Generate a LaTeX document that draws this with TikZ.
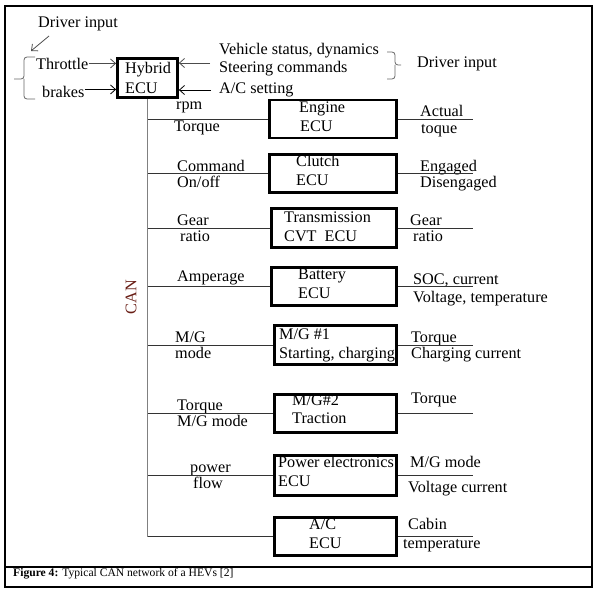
\documentclass[tikz,border=0pt]{standalone}
\usepackage{fontspec}
\setmainfont{Liberation Serif}
\usepackage{xcolor}
\usepackage{tikz}
\usetikzlibrary{arrows.meta, positioning, calc}

\definecolor{canred}{RGB}{105,30,22}

\begin{document}
\begin{tikzpicture}[x=1pt, y=-1pt, font=\fontsize{16.2}{19}\selectfont,
    ecubox/.style={draw, line width=2.8pt, inner sep=0pt, minimum height=39pt},
    lbl/.style={anchor=base west, inner sep=0pt},
    branch/.style={draw=black!80, line width=0.9pt},
    bus/.style={draw=black!50, line width=1.8pt},
    bracket/.style={draw=black!60, line width=0.8pt, rounded corners=3pt},
    inarrow/.style={draw=black!70, line width=0.8pt, -{Straight Barb[length=5pt, width=9pt]}}]
    \useasboundingbox (0,0) rectangle (597,594);

    % Frame and caption
    \draw[line width=1.4pt] (5,6) rectangle (592,587);
    \draw[line width=1.2pt] (5,567) -- (592,567);
    \node[lbl, font=\fontsize{11.6}{13}\selectfont] (caption) at (13,576) {\textbf{Figure 4:} Typical CAN network of a HEVs [2]};

    % Hybrid ECU and its inputs
    \node[ecubox, minimum width=60pt, minimum height=39pt] (hybrid) at (147.5,78) {};
    \node[lbl] (hybridT1) at (125,74) {Hybrid};
    \node[lbl] (hybridT2) at (125,93) {ECU};

    \node[lbl] (drvLeft) at (38,28) {Driver input};
    \coordinate (drvArrS) at (49,36);
    \coordinate (drvArrE) at (31,51);
    \draw[inarrow] (drvArrS) -- (drvArrE);
    \draw[bracket] (35,57) -- (24,57) -- (24,79) -- (14,79) (24,79) -- (24,99) -- (35,99);
    \node[lbl] (throttle) at (36,70) {Throttle};
    \node[lbl] (brakes) at (42,97) {brakes};
    \draw[inarrow] ([yshift=1pt]throttle.east) -- ([yshift=1pt]throttle.east -| hybrid.west);
    \draw[inarrow, draw=black] ([yshift=2pt]brakes.east) -- ([yshift=2pt]brakes.east -| hybrid.west);

    \node[lbl] (vehStatus) at (219,55) {Vehicle status, dynamics};
    \node[lbl] (steering) at (219,73) {Steering commands};
    \node[lbl] (acSetting) at (219,93) {A/C setting};
    \coordinate (vsIn) at (210,63);
    \coordinate (acIn) at (211,90);
    \draw[inarrow] (vsIn) -- (vsIn -| hybrid.east);
    \draw[inarrow, draw=black] (acIn) -- (acIn -| hybrid.east);
    \draw[bracket] (387,52) -- (395,52) -- (395,65) -- (401,65) (395,65) -- (395,79) -- (387,79);
    \node[lbl] (drvRight) at (417,67) {Driver input};

    % right-hand line ends
    \coordinate (outEnd) at (473,0);

    % Engine ECU
    \node[ecubox, minimum width=127.5pt, minimum height=38pt] (engine) at (333,119) {};
    \node[lbl] (engineT1) at (299,112) {Engine};
    \node[lbl] (engineT2) at (300,131) {ECU};
    \node[lbl] (engineIn1) at (176,109) {rpm};
    \node[lbl] (engineIn2) at (174,131) {Torque};
    \node[lbl] (engineOut1) at (420,116) {Actual};
    \node[lbl] (engineOut2) at (421,133) {toque};
    \draw[branch] (engine.west -| hybrid.south) -- (engine.west);
    \draw[branch] (engine.east) -- (engine.east -| outEnd);

    % Clutch ECU
    \node[ecubox, minimum width=127.5pt, minimum height=38.5pt] (clutch) at (333,173.5) {};
    \node[lbl] (clutchT1) at (296,166) {Clutch};
    \node[lbl] (clutchT2) at (296,185) {ECU};
    \node[lbl] (clutchIn1) at (177,171) {Command};
    \node[lbl] (clutchIn2) at (177,187) {On/off};
    \node[lbl] (clutchOut1) at (420,171) {Engaged};
    \node[lbl] (clutchOut2) at (420,187) {Disengaged};
    \draw[branch] (clutch.west -| hybrid.south) -- (clutch.west);
    \draw[branch] (clutch.east) -- (clutch.east -| outEnd);

    % Transmission CVT ECU
    \node[ecubox, minimum width=125pt, minimum height=39.5pt] (trans) at (334,228) {};
    \node[lbl] (transT1) at (284,222) {Transmission};
    \node[lbl] (transT2) at (284,241) {CVT\ \ ECU};
    \node[lbl] (transIn1) at (177,225) {Gear};
    \node[lbl] (transIn2) at (180,241) {ratio};
    \node[lbl] (transOut1) at (410,225) {Gear};
    \node[lbl] (transOut2) at (413,241) {ratio};
    \draw[branch] (trans.west -| hybrid.south) -- (trans.west);
    \draw[branch] (trans.east) -- (trans.east -| outEnd);

    % Battery ECU
    \node[ecubox, minimum width=125pt, minimum height=38.5pt] (battery) at (334,286.5) {};
    \node[lbl] (batteryT1) at (298,279) {Battery};
    \node[lbl] (batteryT2) at (298,298) {ECU};
    \node[lbl] (batteryIn1) at (177,281) {Amperage};
    \node[lbl] (batteryOut1) at (413,284) {SOC, current};
    \node[lbl] (batteryOut2) at (413,302) {Voltage, temperature};
    \draw[branch] (battery.west -| hybrid.south) -- (battery.west);
    \draw[branch] (battery.east) -- (battery.east -| outEnd);

    % M/G #1
    \node[ecubox, minimum width=122pt, minimum height=39.5pt] (mgone) at (335.5,345) {};
    \node[lbl] (mgoneT1) at (279,339) {M/G \#1};
    \node[lbl] (mgoneT2) at (279,358) {Starting, charging};
    \node[lbl] (mgoneIn1) at (175,342) {M/G};
    \node[lbl] (mgoneIn2) at (175,358) {mode};
    \node[lbl] (mgoneOut1) at (411,342) {Torque};
    \node[lbl] (mgoneOut2) at (411,358) {Charging current};
    \draw[branch] (mgone.west -| hybrid.south) -- (mgone.west);
    \draw[branch] (mgone.east) -- (mgone.east -| outEnd);

    % M/G #2
    \node[ecubox, minimum width=122pt, minimum height=38.5pt] (mgtwo) at (335.5,413.5) {};
    \node[lbl] (mgtwoT1) at (292,405) {M/G\#2};
    \node[lbl] (mgtwoT2) at (292,423) {Traction};
    \node[lbl] (mgtwoIn1) at (177,410) {Torque};
    \node[lbl] (mgtwoIn2) at (177,426) {M/G mode};
    \node[lbl] (mgtwoOut1) at (411,403) {Torque};
    \draw[branch] (mgtwo.west -| hybrid.south) -- (mgtwo.west);
    \draw[branch] (mgtwo.east) -- (mgtwo.east -| outEnd);

    % Power electronics ECU
    \node[ecubox, minimum width=122pt, minimum height=40.5pt] (power) at (335.5,475.5) {};
    \node[lbl] (powerT1) at (278,467) {Power electronics};
    \node[lbl] (powerT2) at (278,486) {ECU};
    \node[lbl] (powerIn1) at (190,472) {power};
    \node[lbl] (powerIn2) at (193,488) {flow};
    \node[lbl] (powerOut1) at (410,467) {M/G mode};
    \node[lbl] (powerOut2) at (408,492) {Voltage current};
    \draw[branch] (power.west -| hybrid.south) -- (power.west);
    \draw[branch] (power.east) -- (power.east -| outEnd);

    % A/C ECU
    \node[ecubox, minimum width=122pt, minimum height=38.5pt] (ac) at (335.5,536.5) {};
    \node[lbl] (acT1) at (309,529) {A/C};
    \node[lbl] (acT2) at (309,548) {ECU};
    \node[lbl] (acOut1) at (408,529) {Cabin};
    \node[lbl] (acOut2) at (403,548) {temperature};
    \draw[branch] (ac.west -| hybrid.south) -- (ac.west);
    \draw[branch] (ac.east) -- (ac.east -| outEnd);

    % CAN bus
    \draw[bus] (hybrid.south) -- (hybrid.south |- ac.west);
    \node[text=canred, rotate=90, inner sep=0pt] (canLabel) at (131,297) {CAN};
  \end{tikzpicture}
\end{document}
